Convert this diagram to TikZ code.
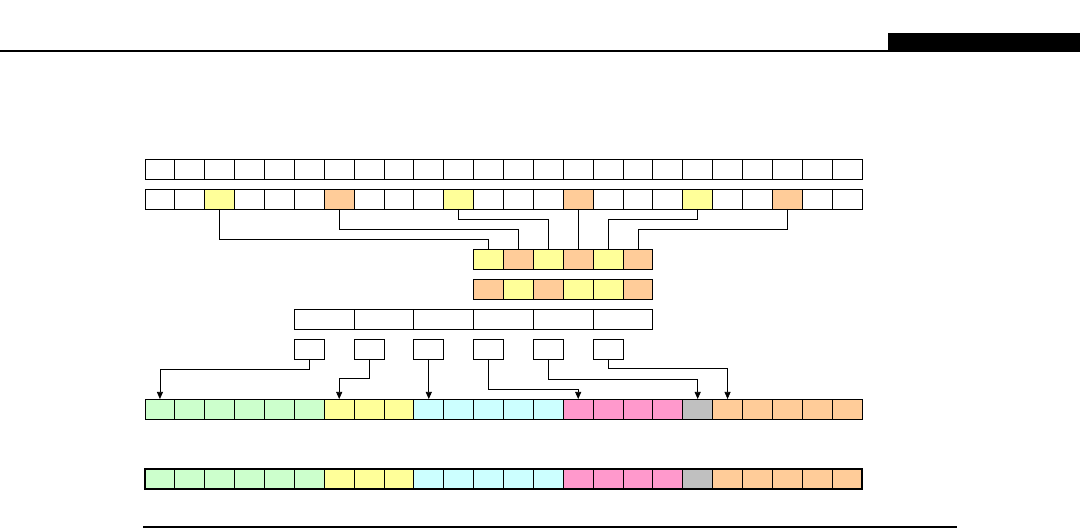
\documentclass[tikz,border=0pt]{standalone}
\usetikzlibrary{arrows.meta,calc}
\definecolor{cy}{HTML}{FFFF99}
\definecolor{co}{HTML}{FFCC99}
\definecolor{cg}{HTML}{CCFFCC}
\definecolor{cc}{HTML}{CCFFFF}
\definecolor{cp}{HTML}{FF99CC}
\definecolor{cs}{HTML}{C0C0C0}
\begin{document}
\begin{tikzpicture}[x=1pt,y=-1pt,
  cell/.style={draw, line width=0.8pt, minimum width=29.875pt, minimum height=20pt, inner sep=0pt, outer sep=0pt, anchor=north west},
  wide/.style={cell, minimum width=59.75pt},
  conn/.style={draw, line width=0.7pt},
  arr/.style={draw, line width=0.7pt, -{Triangle[length=7pt,width=6pt]}}]
\useasboundingbox (0,0) rectangle (1080,529);
% header
\draw[line width=1.3pt] (0,51) -- (888,51);
\fill (888,33) rectangle (1080,51.6);
% row 1
\foreach \i in {0,...,23} \node[cell] (a\i) at (145+29.875*\i,159) {};
% row 2
\foreach \i/\c in {0/white,1/white,2/cy,3/white,4/white,5/white,6/co,7/white,8/white,9/white,10/cy,11/white,12/white,13/white,14/co,15/white,16/white,17/white,18/cy,19/white,20/white,21/co,22/white,23/white}
  \node[cell, fill=\c] (b\i) at (145+29.875*\i,189) {};
% middle rows
\foreach \i/\c in {0/cy,1/co,2/cy,3/co,4/cy,5/co}
  \node[cell, fill=\c] (m\i) at (473.625+29.875*\i,249) {};
\foreach \i/\c in {0/co,1/cy,2/co,3/cy,4/cy,5/co}
  \node[cell, fill=\c] (n\i) at (473.625+29.875*\i,279) {};
% wide row
\foreach \i in {0,...,5} \node[wide] (w\i) at (294.375+59.75*\i,309) {};
% small boxes
\foreach \i in {0,...,5} \node[cell] (s\i) at (294.375+59.75*\i,339) {};
% bottom rows
\foreach \i/\c in {0/cg,1/cg,2/cg,3/cg,4/cg,5/cg,6/cy,7/cy,8/cy,9/cc,10/cc,11/cc,12/cc,13/cc,14/cp,15/cp,16/cp,17/cp,18/cs,19/co,20/co,21/co,22/co,23/co}{
  \node[cell, fill=\c] (d\i) at (145+29.875*\i,399) {};
  \node[cell, fill=\c, line width=1pt] (e\i) at (145+29.875*\i,469) {};
}
\draw[line width=1.3pt] (e0.north west) rectangle (e23.south east);
% connectors row2 -> middle
\draw[conn] (b2.south) -- ++(0,30) -| (m0.north);
\draw[conn] (b6.south) -- ++(0,20) -| (m1.north);
\draw[conn] (b10.south) -- ++(0,10) -| (m2.north);
\draw[conn] (b14.south) -- (m3.north);
\draw[conn] (b18.south) -- ++(0,10) -| (m4.north);
\draw[conn] (b21.south) -- ++(0,20) -| (m5.north);
% arrows small boxes -> bottom row
\draw[arr] (s0.south) -- ++(0,10) -| (d0.north);
\draw[arr] (s1.south) -- ++(0,19) -| (d6.north);
\draw[arr] (s2.south) -- (d9.north);
\draw[arr] (s3.south) -- ++(0,30) -| (d14.north);
\draw[arr] (s4.south) -- ++(0,20) -| (d18.north);
\draw[arr] (s5.south) -- ++(0,9) -| (d19.north);
% bottom rule
\draw[line width=1.5pt] (143,527) -- (957,527);
\end{tikzpicture}
\end{document}
